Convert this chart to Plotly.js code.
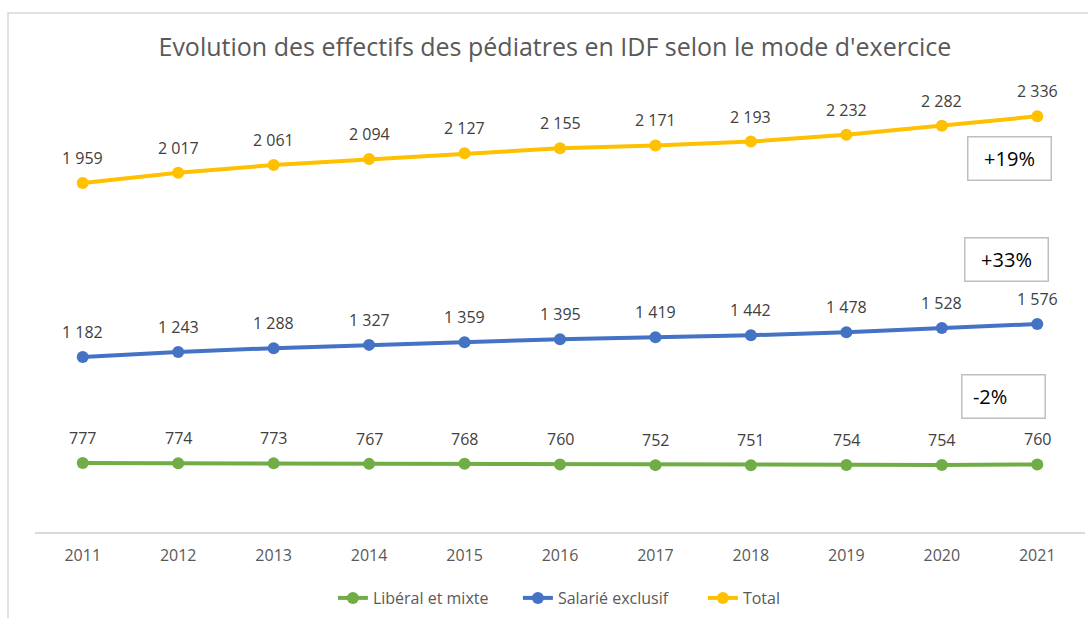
<!DOCTYPE html>
<html>
<head>
<meta charset="utf-8">
<script src="https://cdn.plot.ly/plotly-3.0.1.min.js"></script>
<style>
  html, body { margin: 0; padding: 0; background: #fff; }
  #chart { width: 1088px; height: 618px; }
</style>
</head>
<body>
<div id="chart"></div>
<script>
const years = ["2011","2012","2013","2014","2015","2016","2017","2018","2019","2020","2021"];
const liberal = [777, 774, 773, 767, 768, 760, 752, 751, 754, 754, 760];
const salarie = [1182, 1243, 1288, 1327, 1359, 1395, 1419, 1442, 1478, 1528, 1576];
const total = [1959, 2017, 2061, 2094, 2127, 2155, 2171, 2193, 2232, 2282, 2336];
const seriesNames = ["Libéral et mixte", "Salarié exclusif", "Total"];
const growthLabels = ["+19%", "+33%", "-2%"];

const colors = ["#70AD47", "#4472C4", "#FFC000"];
const fmt = v => String(v).replace(/\B(?=(\d{3})+(?!\d))/g, " ");

const seriesData = [liberal, salarie, total];
const axisIds = ["y3", "y2", "y"];
const traces = seriesData.map((vals, i) => ({
  type: "scatter",
  mode: "lines+markers",
  name: seriesNames[i],
  x: years,
  y: vals,
  yaxis: axisIds[i],
  line: { color: colors[i], width: 4 },
  marker: { color: colors[i], size: 12 },
  hoverinfo: "skip"
}));

const annotations = [];
seriesData.forEach((vals, i) => {
  vals.forEach((v, j) => {
    annotations.push({
      x: j, y: v, xref: "x", yref: axisIds[i],
      text: fmt(v), showarrow: false, yshift: 25,
      font: { family: "Open Sans, sans-serif", size: 16, color: "#404040" }
    });
  });
});

const boxes = [
  { x: 0.928, y: 0.8274, text: growthLabels[0], align: "center" },
  { x: 0.9257, y: 0.603, text: growthLabels[1], align: "center" },
  { x: 0.9224, y: 0.2987, text: growthLabels[2], align: "left" }
];
boxes.forEach(b => {
  annotations.push({
    xref: "paper", yref: "paper", x: b.x, y: b.y,
    xanchor: "center", yanchor: "middle",
    text: b.align === "left" ? "&nbsp;&nbsp;" + b.text : b.text,
    align: b.align, showarrow: false,
    width: 82, height: 42, borderpad: 0,
    bordercolor: "#BFBFBF", borderwidth: 1.5, bgcolor: "#FFFFFF",
    font: { family: "Open Sans, sans-serif", size: 20, color: "#000000" }
  });
});

const hiddenAxis = (range, extra) => Object.assign({
  range: range, visible: false, showgrid: false, zeroline: false, fixedrange: true
}, extra || {});

const layout = {
  width: 1088, height: 618,
  margin: { l: 35, r: 3, t: 80, b: 86 },
  paper_bgcolor: "#FFFFFF",
  plot_bgcolor: "#FFFFFF",
  title: {
    text: "Evolution des effectifs des pédiatres en IDF selon le mode d'exercice",
    font: { family: "Open Sans, sans-serif", size: 25, color: "#595959" },
    x: 0.51, xanchor: "center", y: 0.924, yanchor: "middle"
  },
  xaxis: {
    type: "category", range: [-0.5, 10.5],
    showgrid: false, zeroline: false,
    showline: true, linecolor: "#D9D9D9", linewidth: 1.5,
    ticks: "outside", ticklen: 8, tickcolor: "rgba(0,0,0,0)",
    tickfont: { family: "Open Sans, sans-serif", size: 16, color: "#595959" },
    fixedrange: true
  },
  yaxis: hiddenAxis([-13, 2541]),
  yaxis2: hiddenAxis([-906, 4488], { overlaying: "y" }),
  yaxis3: hiddenAxis([-46, 5348], { overlaying: "y" }),
  showlegend: true,
  legend: {
    orientation: "h", x: 0.548, xanchor: "center", y: -0.146, yanchor: "middle",
    font: { family: "Open Sans, sans-serif", size: 16, color: "#595959" },
    entrywidth: 140, entrywidthmode: "pixels",
    itemclick: false, itemdoubleclick: false
  },
  annotations: annotations,
  shapes: [{
    type: "rect", xref: "paper", yref: "paper",
    x0: (8 - 35) / 1050, x1: 1.02, y0: -0.25, y1: (532 - 13) / 452,
    line: { color: "#D9D9D9", width: 1.5 }, fillcolor: "rgba(0,0,0,0)", layer: "below"
  }]
};

Plotly.newPlot("chart", traces, layout, { displayModeBar: false, staticPlot: true });
</script>
</body>
</html>
